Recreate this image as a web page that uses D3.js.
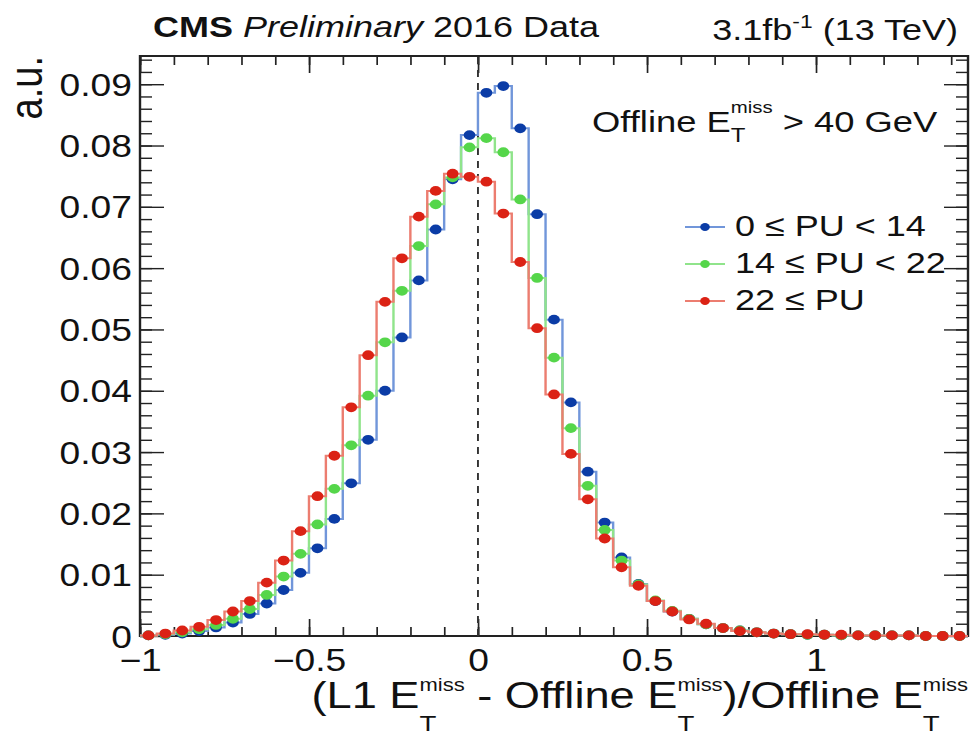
<!DOCTYPE html>
<html>
<head>
<meta charset="utf-8">
<script src="https://cdn.jsdelivr.net/npm/d3@7"></script>
<style>
  html, body { margin: 0; padding: 0; background: #fff; overflow: hidden; }
  svg { display: block; }
  text { font-family: "Liberation Sans", Arial, Helvetica, sans-serif; fill: #111; white-space: pre; }
</style>
</head>
<body>
<svg id="chart"></svg>
<script>
// ---- histogram binning ----
const binLow = -1.0;
const binWidth = 0.05;
const nBins = 49;

// ---- axis ticks ----
const xTickValues = [-1, -0.5, 0, 0.5, 1];
const xTickLabels = ["\u22121", "\u22120.5", "0", "0.5", "1"];
const yTickValues = [0, 0.01, 0.02, 0.03, 0.04, 0.05, 0.06, 0.07, 0.08, 0.09];
const yTickLabels = ["0", "0.01", "0.02", "0.03", "0.04", "0.05", "0.06", "0.07", "0.08", "0.09"];

// ---- series (normalised bin contents, one per pile-up range) ----
const seriesNames = ["0 \u2264 PU < 14", "14 \u2264 PU < 22", "22 \u2264 PU"];
const puLow = [
  0.0001, 0.0002, 0.0004, 0.0008, 0.0014, 0.0022, 0.0036, 0.0053, 0.0075, 0.0103,
  0.0143, 0.0191, 0.0249, 0.0320, 0.0400, 0.0487, 0.0580, 0.0663, 0.0745, 0.0817,
  0.0886, 0.0897, 0.0828, 0.0688, 0.0516, 0.0381, 0.0268, 0.0185, 0.0128, 0.0085,
  0.0057, 0.0040, 0.0028, 0.0019, 0.0013, 0.0009, 0.0006, 0.0004, 0.0003, 0.0002,
  0.0002, 0.0001, 0.0001, 0.0001, 0.0001, 0.0001, 0.0000, 0.0000, 0.0000
];
const puMid = [
  0.0001, 0.0003, 0.0006, 0.0011, 0.0018, 0.0028, 0.0044, 0.0067, 0.0097, 0.0134,
  0.0182, 0.0240, 0.0311, 0.0392, 0.0479, 0.0563, 0.0636, 0.0704, 0.0748, 0.0797,
  0.0812, 0.0789, 0.0712, 0.0584, 0.0454, 0.0339, 0.0245, 0.0173, 0.0123, 0.0084,
  0.0058, 0.0041, 0.0028, 0.0019, 0.0013, 0.0009, 0.0006, 0.0004, 0.0003, 0.0002,
  0.0002, 0.0001, 0.0001, 0.0001, 0.0001, 0.0001, 0.0000, 0.0000, 0.0000
];
const puHigh = [
  0.0001, 0.0004, 0.0009, 0.0015, 0.0026, 0.0040, 0.0057, 0.0087, 0.0123, 0.0171,
  0.0228, 0.0294, 0.0373, 0.0458, 0.0545, 0.0616, 0.0684, 0.0726, 0.0754, 0.0749,
  0.0741, 0.0689, 0.0610, 0.0502, 0.0394, 0.0297, 0.0223, 0.0159, 0.0112, 0.0082,
  0.0057, 0.0040, 0.0027, 0.0020, 0.0013, 0.0008, 0.0006, 0.0004, 0.0003, 0.0003,
  0.0002, 0.0002, 0.0001, 0.0001, 0.0001, 0.0001, 0.0000, 0.0000, 0.0000
];
const markerColors = ["#0b3ca6", "#55d64a", "#db2215"];
const lineColors   = ["#7196da", "#90e48b", "#ec7d70"];

// ---- canvas: drawn in a narrower user space, stretched horizontally ----
const W = 976, H = 736, SX = 1.2;
const W0 = W / SX;
const svg = d3.select("#chart")
  .attr("width", W).attr("height", H)
  .attr("viewBox", `0 0 ${W0} ${H}`)
  .attr("preserveAspectRatio", "none");

const frame = { left: 140 / SX, right: 968 / SX, top: 56, bottom: 636 };
const x = d3.scaleLinear().domain([binLow, binLow + nBins * binWidth]).range([frame.left, frame.right]);
const y = d3.scaleLinear().domain([0, 0.0946]).range([frame.bottom, frame.top]);

const edges = d3.range(nBins + 1).map(i => binLow + i * binWidth);
const centers = d3.range(nBins).map(i => binLow + (i + 0.5) * binWidth);

// ---- axes (ticks on all four sides, pointing inward) ----
const tickColor = "#222";
const xMinor = d3.range(-10, 15).map(i => i / 10);
const yMinor = d3.range(0, 48).map(i => i / 500);

function styleAxis(g) {
  g.select(".domain").remove();
  g.selectAll(".tick line").attr("stroke", tickColor).attr("stroke-width", 1.4);
}
svg.append("g").attr("transform", `translate(0,${frame.bottom})`)
  .call(d3.axisBottom(x).tickValues(xMinor).tickSize(-9).tickFormat("")).call(styleAxis);
svg.append("g").attr("transform", `translate(0,${frame.top})`)
  .call(d3.axisTop(x).tickValues(xMinor).tickSize(-9).tickFormat("")).call(styleAxis);
svg.append("g").attr("transform", `translate(0,${frame.top})`)
  .call(d3.axisTop(x).tickValues(xTickValues).tickSize(-17).tickFormat("")).call(styleAxis);
svg.append("g").attr("transform", `translate(${frame.left},0)`)
  .call(d3.axisLeft(y).tickValues(yMinor).tickSize(-10).tickFormat("")).call(styleAxis);
svg.append("g").attr("transform", `translate(${frame.right},0)`)
  .call(d3.axisRight(y).tickValues(yMinor).tickSize(-10).tickFormat("")).call(styleAxis);
svg.append("g").attr("transform", `translate(${frame.right},0)`)
  .call(d3.axisRight(y).tickValues(yTickValues).tickSize(-20).tickFormat("")).call(styleAxis);

const xAxis = svg.append("g").attr("transform", `translate(0,${frame.bottom})`)
  .call(d3.axisBottom(x).tickValues(xTickValues).tickSize(-17)
    .tickFormat((d, i) => xTickLabels[i]))
  .call(styleAxis);
xAxis.selectAll(".tick text")
  .attr("y", 35).attr("dy", null)
  .style("font-size", "31px").attr("fill", "#111");

const yAxis = svg.append("g").attr("transform", `translate(${frame.left},0)`)
  .call(d3.axisLeft(y).tickValues(yTickValues).tickSize(-20)
    .tickFormat((d, i) => yTickLabels[i]))
  .call(styleAxis);
yAxis.selectAll(".tick text")
  .attr("x", -(frame.left - 110)).attr("dy", "0.36em")
  .style("font-size", "31px").attr("fill", "#111");

// ---- frame ----
svg.append("rect")
  .attr("x", frame.left).attr("y", frame.top)
  .attr("width", frame.right - frame.left).attr("height", frame.bottom - frame.top)
  .attr("fill", "none").attr("stroke", "#222").attr("stroke-width", 2);

// ---- dashed reference line at zero ----
svg.append("line")
  .attr("x1", x(0)).attr("x2", x(0))
  .attr("y1", frame.bottom).attr("y2", frame.top)
  .attr("stroke", "#333").attr("stroke-width", 1.6)
  .attr("stroke-dasharray", "7,6");

// ---- histograms: step outline + markers at bin centres ----
const stepLine = d3.line().x(d => x(d[0])).y(d => y(d[1]));
[puLow, puMid, puHigh].forEach((vals, k) => {
  const pts = [];
  vals.forEach((v, i) => { pts.push([edges[i], v]); pts.push([edges[i + 1], v]); });
  svg.append("path")
    .attr("d", stepLine(pts))
    .attr("fill", "none")
    .attr("stroke", lineColors[k])
    .attr("stroke-width", 2);
  svg.append("g").selectAll("circle")
    .data(vals)
    .join("circle")
    .attr("cx", (d, i) => x(centers[i]))
    .attr("cy", d => y(d))
    .attr("r", 4.9)
    .attr("fill", markerColors[k]);
});

// ---- rich text helper (super/subscripts stacked like E_T^miss) ----
function richText(parent, px, py, parts, anchor, kx) {
  const g = parent.append("g");
  let cx = 0;
  parts.forEach(p => {
    if (p.t !== undefined) {
      const el = g.append("text")
        .attr("xml:space", "preserve")
        .attr("x", cx).attr("y", p.dy || 0)
        .style("font-size", p.size + "px")
        .style("font-weight", p.bold ? "bold" : null)
        .style("font-style", p.italic ? "italic" : null)
        .text(p.t);
      cx += el.node().getComputedTextLength();
    } else {
      let w = 0;
      [p.sup, p.sub].forEach(q => {
        if (!q) return;
        const el = g.append("text")
          .attr("x", cx).attr("y", q.dy)
          .style("font-size", q.size + "px")
          .text(q.t);
        w = Math.max(w, el.node().getComputedTextLength());
      });
      cx += w;
    }
  });
  const k = kx || 1;
  const shift = anchor === "end" ? -cx * k : anchor === "middle" ? -cx * k / 2 : 0;
  g.attr("transform", `translate(${px + shift},${py}) scale(${k},1)`);
  return g;
}

// ---- header ----
richText(svg, 153 / SX, 37, [
  { t: "CMS", size: 30, bold: true },
  { t: " ", size: 30 },
  { t: "Preliminary", size: 30, italic: true },
  { t: " 2016 Data", size: 30 }
], "start");
richText(svg, 958 / SX, 40, [
  { t: "3.1fb", size: 30 },
  { sup: { t: "-1", size: 19, dy: -12 } },
  { t: " (13 TeV)", size: 30 }
], "end");

// ---- selection label ----
richText(svg, 592 / SX, 132, [
  { t: "Offline E", size: 30.3 },
  { sup: { t: "miss", size: 17, dy: -19 }, sub: { t: "T", size: 20, dy: 10 } },
  { t: " > 40 GeV", size: 30.3 }
], "start");

// ---- legend ----
const legendRows = [227, 264, 301];
seriesNames.forEach((name, k) => {
  const ly = legendRows[k];
  svg.append("line")
    .attr("x1", 685 / SX).attr("x2", 725 / SX)
    .attr("y1", ly).attr("y2", ly)
    .attr("stroke", lineColors[k]).attr("stroke-width", 2);
  svg.append("circle")
    .attr("cx", 705 / SX).attr("cy", ly).attr("r", 4)
    .attr("fill", markerColors[k]);
  svg.append("text")
    .attr("x", 735 / SX).attr("y", ly + 9)
    .style("font-size", "30px")
    .text(name);
});

// ---- axis titles ----
const et = { sup: { t: "miss", size: 17.5, dy: -17 }, sub: { t: "T", size: 22, dy: 23 } };
richText(svg, frame.right, 708, [
  { t: "(L1 E", size: 36 }, et,
  { t: " - Offline E", size: 36 }, et,
  { t: ")/Offline E", size: 36 }, et
], "end", 1.047);

svg.append("text")
  .attr("transform", `translate(${42 / SX},56) rotate(-90)`)
  .attr("text-anchor", "end")
  .style("font-size", "38px")
  .text("a.u.");
</script>
</body>
</html>
